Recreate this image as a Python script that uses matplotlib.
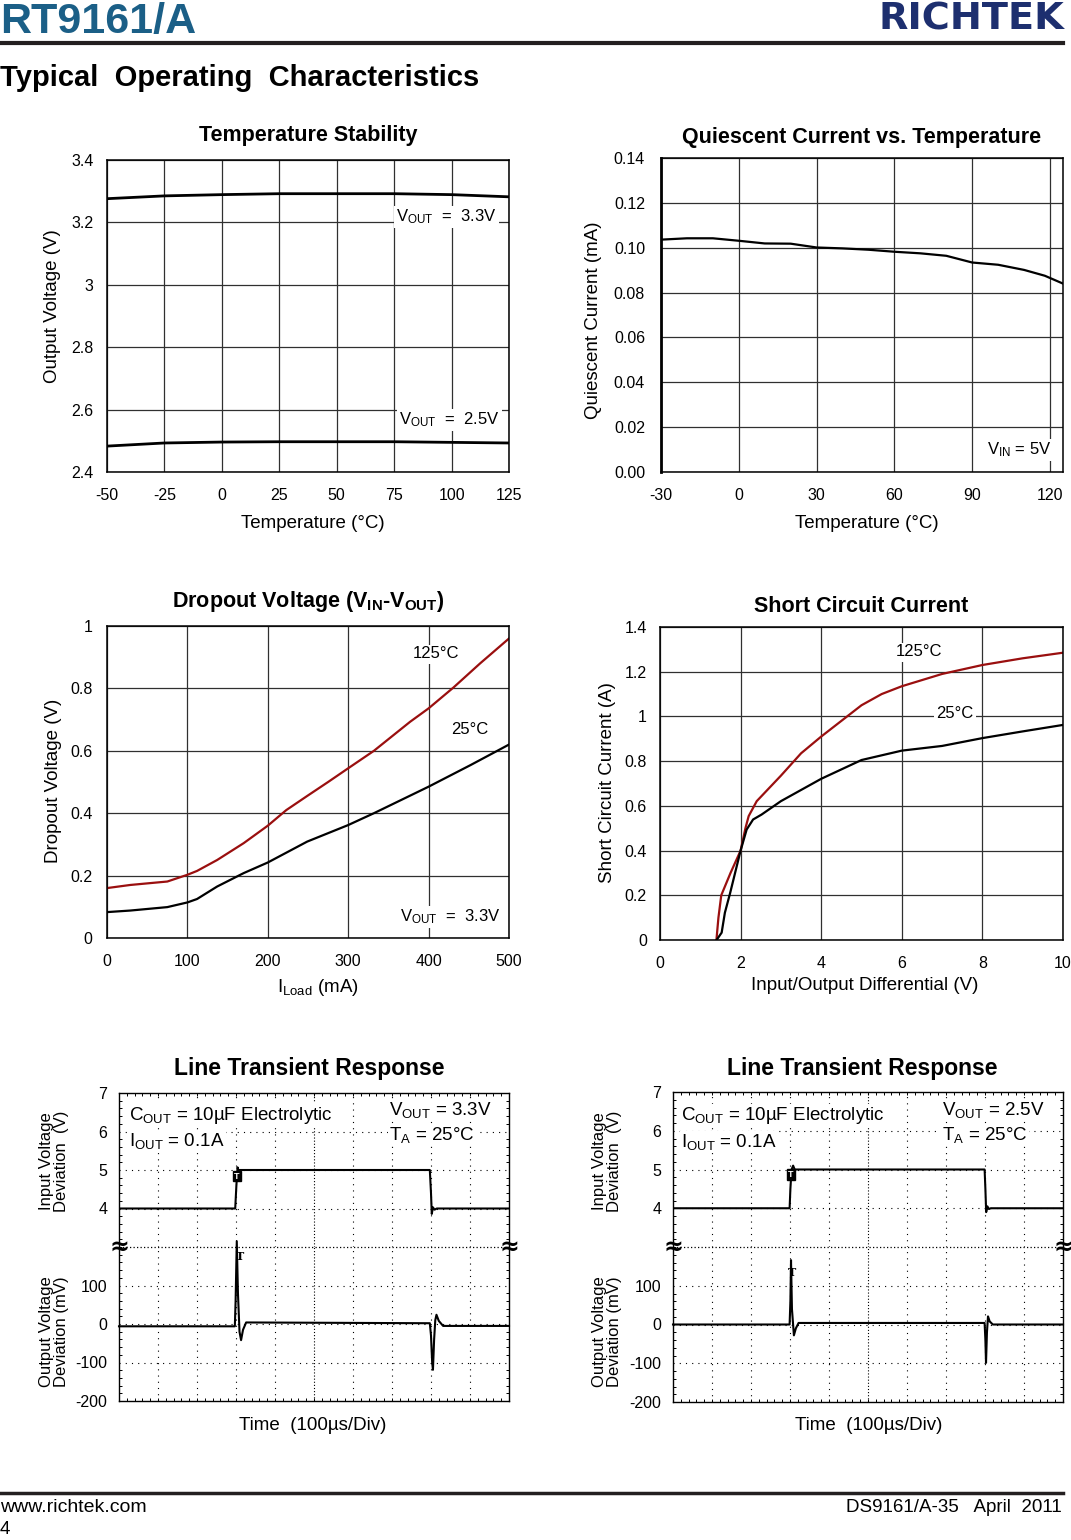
import numpy as np
import matplotlib
matplotlib.use('Agg')
import matplotlib.pyplot as plt
from matplotlib.lines import Line2D
from matplotlib.ticker import MultipleLocator

plt.rcParams['font.family'] = ['Liberation Sans', 'DejaVu Sans']
plt.rcParams['mathtext.fontset'] = 'custom'
plt.rcParams['mathtext.rm'] = 'Liberation Sans'
plt.rcParams['mathtext.it'] = 'Liberation Sans:italic'
plt.rcParams['mathtext.bf'] = 'Liberation Sans:bold'
plt.rcParams['axes.unicode_minus'] = False

W, H = 1071, 1540

# ---------------- data ----------------
ts_temp = [-50, -25, 0, 25, 50, 75, 100, 125]
ts_v33 = [3.276, 3.285, 3.289, 3.292, 3.292, 3.292, 3.289, 3.282]
ts_v25 = [2.483, 2.493, 2.496, 2.497, 2.497, 2.497, 2.495, 2.493]

iq_temp = [-30, -20, -10, 0, 10, 20, 30, 40, 50, 60, 70, 80, 90, 100, 110, 118, 125]
iq_ma = [0.1036, 0.1042, 0.1042, 0.1031, 0.1019, 0.1018, 0.1001, 0.0997, 0.0991,
         0.0982, 0.0975, 0.0964, 0.0934, 0.0924, 0.0901, 0.0875, 0.0840]

do_iload_125 = [0, 29, 75, 100, 112, 137, 170, 200, 223, 250, 275, 300, 332, 377, 400, 431, 464, 500]
do_v_125 = [0.160, 0.170, 0.181, 0.2026, 0.215, 0.25, 0.304, 0.36, 0.41, 0.457, 0.50, 0.544,
            0.60, 0.693, 0.736, 0.803, 0.88, 0.96]
do_iload_25 = [0, 29, 75, 100, 112, 137, 170, 200, 249, 300, 332, 400, 452, 500]
do_v_25 = [0.083, 0.088, 0.099, 0.114, 0.125, 0.165, 0.208, 0.242, 0.309, 0.362, 0.40,
           0.485, 0.554, 0.620]

sc_v_125 = [1.40, 1.45, 1.52, 1.75, 2.0, 2.12, 2.2, 2.4, 3.0, 3.5, 4.0, 4.5, 5.0, 5.5, 6.0,
            7.0, 8.0, 9.0, 10.0]
sc_i_125 = [0, 0.1, 0.2, 0.3, 0.4, 0.5, 0.554, 0.621, 0.735, 0.835, 0.91, 0.98, 1.05, 1.10,
            1.135, 1.19, 1.23, 1.26, 1.285]
sc_v_25 = [1.405, 1.48, 1.53, 1.61, 1.74, 2.0, 2.15, 2.31, 2.52, 3.0, 4.0, 5.0, 6.0, 7.0,
           8.0, 9.0, 10.0]
sc_i_25 = [0, 0.02, 0.033, 0.122, 0.21, 0.40, 0.494, 0.539, 0.561, 0.621, 0.721, 0.805,
           0.847, 0.868, 0.903, 0.933, 0.962]

# line transient 1 (VOUT = 3.3V), time in us
lt1_t_in = [0, 298, 301, 304, 306, 310, 797, 800, 802, 805, 809, 815, 1000]
lt1_v_in = [4.0, 4.0, 4.6, 5.07, 5.0, 5.0, 5.0, 4.4, 3.86, 4.03, 3.97, 4.0, 4.0]
lt1_t_out = [0, 297, 299, 302, 305, 309, 313, 318, 326, 797, 800, 803, 805, 808, 811,
             814, 820, 831, 1000]
lt1_mv_out = [-6, -6, 60, 215, 80, -20, -42, -15, 4, 2, -30, -100, -119, -40, 10, 24, 8,
              -5, -5]
# line transient 2 (VOUT = 2.5V)
lt2_t_in = [0, 299, 301, 304, 308, 312, 799, 801, 803, 806, 810, 815, 1000]
lt2_v_in = [4.0, 4.0, 4.5, 5.0, 5.1, 5.0, 5.0, 4.5, 3.9, 4.05, 3.98, 4.0, 4.0]
lt2_t_out = [0, 299, 301, 302.6, 305, 310, 315, 322, 799, 801, 802.6, 805, 807.7, 812,
             820, 1000]
lt2_mv_out = [0, 0, 60, 166, 40, -28, -10, 4, 4, -40, -99, -20, 21, 8, 0, 0]

RED = '#9a0f0f'
GRID = '#303030'

fig = plt.figure(figsize=(W / 100, H / 100), dpi=100)


def rect(px):
    x0, y0, x1, y1 = px
    return [x0 / W, 1 - y1 / H, (x1 - x0) / W, (y1 - y0) / H]


def frac(px, x, y):
    x0, y0, x1, y1 = px
    return (x - x0) / (x1 - x0), (y1 - y) / (y1 - y0)


def set_labels(ax, px, xl, xc, yl, yc, size=13.5):
    ax.set_xlabel(xl, fontsize=size)
    ax.xaxis.label.set_va('center')
    ax.xaxis.set_label_coords(*frac(px, *xc))
    ax.set_ylabel(yl, fontsize=size)
    ax.yaxis.label.set_va('center')
    ax.yaxis.label.set_ha('center')
    ax.yaxis.set_label_coords(*frac(px, *yc))


def std_axes(px, xlim, ylim, xticks, xtl, yticks, ytl, ypad, title, title_y):
    ax = fig.add_axes(rect(px))
    ax.set_xlim(*xlim)
    ax.set_ylim(*ylim)
    ax.set_xticks(xticks)
    ax.set_xticklabels(xtl)
    ax.set_yticks(yticks)
    ax.set_yticklabels(ytl)
    ax.tick_params(length=0, labelsize=11.5)
    ax.tick_params(axis='x', pad=11.5)
    ax.tick_params(axis='y', pad=ypad)
    ax.grid(True, color=GRID, lw=0.9)
    ax.set_axisbelow(True)
    for s in ax.spines.values():
        s.set_linewidth(1.1)
    fx, fy = frac(px, (px[0] + px[2]) / 2, title_y)
    ax.text(0.5, fy, title, transform=ax.transAxes, ha='center', va='center',
            fontsize=15.5, fontweight='bold')
    return ax


def label(ax, px, x, y, s, ha='center', size=12):
    fx, fy = frac(px, x, y)
    ax.text(fx, fy, s, transform=ax.transAxes, ha=ha, va='center', fontsize=size,
            bbox=dict(facecolor='white', edgecolor='none', pad=1.5), zorder=5)


# ---------------- header / footer ----------------
fig.text(0.0, 1 - 33 / H, 'RT9161/A', fontsize=31, fontweight='bold', color='#1b5f87',
         ha='left', va='baseline')
fig.text(1064 / W, 1 - 30 / H, 'RICHTEK', family='DejaVu Sans', fontweight='heavy',
         fontsize=27.5, color='#1d2f6f', ha='right', va='baseline')
fig.add_artist(Line2D([0, 1063 / W], [1 - 43 / H] * 2, lw=3, color='#231f20'))
fig.text(0.0, 1 - 78 / H, 'Typical  Operating  Characteristics', fontsize=21,
         fontweight='bold', ha='left', va='center')
fig.add_artist(Line2D([0, 1063 / W], [1 - 1493 / H] * 2, lw=2.5, color='#231f20'))
fig.text(0.0, 1 - 1507 / H, 'www.richtek.com', fontsize=14, ha='left', va='center')
fig.text(1062 / W, 1 - 1507 / H, 'DS9161/A-35   April  2011', fontsize=13.5, ha='right',
         va='center')
fig.text(0.0, 1 - 1529 / H, '4', fontsize=13.5, ha='left', va='center')

# ---------------- Temperature Stability ----------------
R1 = (107, 160, 509, 472)
ax1 = std_axes(R1, (-50, 125), (2.4, 3.4), ts_temp, [str(t) for t in ts_temp],
               [2.4, 2.6, 2.8, 3.0, 3.2, 3.4], ['2.4', '2.6', '2.8', '3', '3.2', '3.4'],
               9.5, 'Temperature Stability', 136)
ax1.plot(ts_temp, ts_v33, color='black', lw=2.0)
ax1.plot(ts_temp, ts_v25, color='black', lw=2.0)
label(ax1, R1, 497, 217, r'V$_{\rm OUT}$  =  3.3V', ha='right')
label(ax1, R1, 500, 420, r'V$_{\rm OUT}$  =  2.5V', ha='right')
set_labels(ax1, R1, 'Temperature (°C)', (313, 523), 'Output Voltage (V)', (53, 306))

# ---------------- Quiescent Current ----------------
R2 = (661, 158, 1063, 472)
ax2 = std_axes(R2, (-30, 125), (0, 0.14), [-30, 0, 30, 60, 90, 120],
               ['-30', '0', '30', '60', '90', '120'],
               [0, 0.02, 0.04, 0.06, 0.08, 0.10, 0.12, 0.14],
               ['0.00', '0.02', '0.04', '0.06', '0.08', '0.10', '0.12', '0.14'],
               11.5, 'Quiescent Current vs. Temperature', 137)
ax2.spines['left'].set_linewidth(2.0)
ax2.plot(iq_temp, iq_ma, color='black', lw=1.6)
label(ax2, R2, 1052, 450, r'V$_{\rm IN}$ = 5V', ha='right')
set_labels(ax2, R2, 'Temperature (°C)', (867, 524), 'Quiescent Current (mA)', (593, 320))

# ---------------- Dropout Voltage ----------------
R3 = (107, 626, 509, 938)
ax3 = std_axes(R3, (0, 500), (0, 1), [0, 100, 200, 300, 400, 500],
               ['0', '100', '200', '300', '400', '500'],
               [0, 0.2, 0.4, 0.6, 0.8, 1.0], ['0', '0.2', '0.4', '0.6', '0.8', '1'],
               10.5, r'Dropout Voltage (V$_{\mathbf{IN}}$-V$_{\mathbf{OUT}}$)', 601)
ax3.plot(do_iload_125, do_v_125, color=RED, lw=1.6)
ax3.plot(do_iload_25, do_v_25, color='black', lw=1.6)
label(ax3, R3, 436, 654, '125°C')
label(ax3, R3, 470, 729, '25°C')
label(ax3, R3, 450, 917, r'V$_{\rm OUT}$  =  3.3V')
set_labels(ax3, R3, r'I$_{\rm Load}$ (mA)', (318, 988), 'Dropout Voltage (V)', (54, 781))

# ---------------- Short Circuit Current ----------------
R4 = (660, 627, 1063, 940)
ax4 = std_axes(R4, (0, 10), (0, 1.4), [0, 2, 4, 6, 8, 10],
               ['0', '2', '4', '6', '8', '10'],
               [0, 0.2, 0.4, 0.6, 0.8, 1.0, 1.2, 1.4],
               ['0', '0.2', '0.4', '0.6', '0.8', '1', '1.2', '1.4'],
               9.5, 'Short Circuit Current', 607)
ax4.plot(sc_v_125, sc_i_125, color=RED, lw=1.6)
ax4.plot(sc_v_25, sc_i_25, color='black', lw=1.6)
label(ax4, R4, 919, 652, '125°C')
label(ax4, R4, 955, 714, '25°C')
set_labels(ax4, R4, 'Input/Output Differential (V)', (865, 985),
           'Short Circuit Current (A)', (607, 783))


# ---------------- Line transient (oscilloscope style) ----------------
SPARSE = (0, (1, 4.6))
DENSE = (0, (1, 1.8))


def scope(Rt, Rb, t_in, v_in, t_out, mv_out, vout_txt, title_y, title_x,
          ann_left, ann_right, trig_in, trig_out, ylab_x, time_c):
    axt = fig.add_axes(rect(Rt))
    axb = fig.add_axes(rect(Rb))
    for ax in (axt, axb):
        ax.set_xlim(0, 1000)
        ax.set_xticks([])
        ax.xaxis.set_minor_locator(MultipleLocator(20))
        for s in ax.spines.values():
            s.set_linewidth(1.0)
        for t in range(100, 1000, 100):
            ax.axvline(t, color='black', lw=0.8, ls=DENSE if t == 500 else SPARSE, zorder=1)
        ax.tick_params(which='major', length=0, labelsize=11.5, pad=8.5)
    axt.set_ylim(3, 7)
    axt.set_yticks([4, 5, 6, 7])
    axt.set_yticklabels(['4', '5', '6', '7'])
    axt.yaxis.set_minor_locator(MultipleLocator(0.2))
    axt.spines['bottom'].set_visible(False)
    axt.tick_params(which='minor', direction='in', length=2.5, width=0.7, top=True,
                    bottom=False, left=True, right=True)
    axb.set_ylim(-200, 200)
    axb.set_yticks([-200, -100, 0, 100])
    axb.set_yticklabels(['-200', '-100', '0', '100'])
    axb.yaxis.set_minor_locator(MultipleLocator(20))
    axb.spines['top'].set_visible(False)
    axb.tick_params(which='minor', direction='in', length=2.5, width=0.7, top=False,
                    bottom=True, left=True, right=True)
    for v in (4, 5, 6):
        axt.axhline(v, color='black', lw=0.8, ls=SPARSE, zorder=1)
    for v in (-100, 0, 100):
        axb.axhline(v, color='black', lw=0.8, ls=SPARSE, zorder=1)
    axb.axhline(200, color='black', lw=0.9, ls=DENSE, zorder=1, clip_on=False)

    axt.plot(t_in, v_in, color='black', lw=1.5, zorder=3)
    axb.plot(t_out, mv_out, color='black', lw=1.5, zorder=3, clip_on=False)

    # trigger markers
    axt.text(trig_in[0], trig_in[1], 'T', fontsize=6.5, fontweight='bold', color='white',
             ha='center', va='center', zorder=6,
             bbox=dict(facecolor='black', edgecolor='black', pad=0.6))
    axb.text(trig_out[0], trig_out[1], 'T', family='DejaVu Serif', fontsize=8,
             fontweight='bold', ha='center', va='center', zorder=6)

    # break symbols
    for xb in (Rt[0], Rt[2]):
        fig.text(xb / W, 1 - 1247 / H, '≈', fontsize=17, fontweight='bold',
                 ha='center', va='center', family='DejaVu Sans')

    fig.text(title_x / W, 1 - title_y / H, 'Line Transient Response', fontsize=16.5,
             fontweight='bold', ha='center', va='center')

    box = dict(facecolor='white', edgecolor='none', pad=1.0)
    lx, ly = ann_left
    for i, s in enumerate([r'C$_{\rm OUT}$ = 10µF Electrolytic', r'I$_{\rm OUT}$ = 0.1A']):
        fx, fy = frac(Rt, lx, ly + i * 26)
        axt.text(fx, fy, s, transform=axt.transAxes, fontsize=13.5, ha='left',
                 va='center', zorder=5, bbox=box)
    rx, ry = ann_right
    for i, s in enumerate([vout_txt, r'T$_{\rm A}$ = 25°C']):
        fx, fy = frac(Rt, rx, ry + i * 25)
        axt.text(fx, fy, s, transform=axt.transAxes, fontsize=13.5, ha='left',
                 va='center', zorder=5, bbox=box)

    axt.set_ylabel('Input Voltage\nDeviation  (V)', fontsize=12, linespacing=1.0)
    axt.yaxis.label.set_va('center')
    axt.yaxis.set_label_coords(*frac(Rt, ylab_x, 1161))
    axb.set_ylabel('Output Voltage\nDeviation (mV)', fontsize=12, linespacing=1.0)
    axb.yaxis.label.set_va('center')
    axb.yaxis.set_label_coords(*frac(Rb, ylab_x, 1332))
    axb.set_xlabel('Time  (100µs/Div)', fontsize=13.5)
    axb.xaxis.label.set_va('center')
    axb.xaxis.set_label_coords(*frac(Rb, *time_c))


scope((119, 1093, 509, 1247), (119, 1247, 509, 1401), lt1_t_in, lt1_v_in, lt1_t_out,
      lt1_mv_out, r'V$_{\rm OUT}$ = 3.3V', 1068, 309, (129, 1115), (389, 1110),
      (302.6, 4.84), (310, 176), 54, (313, 1426))
scope((673, 1092, 1063, 1247), (673, 1247, 1063, 1402), lt2_t_in, lt2_v_in, lt2_t_out,
      lt2_mv_out, r'V$_{\rm OUT}$ = 2.5V', 1069, 862, (681, 1116), (942, 1110),
      (302.6, 4.87), (306, 135), 607, (869, 1425))

fig.savefig('out.png', dpi=100)
